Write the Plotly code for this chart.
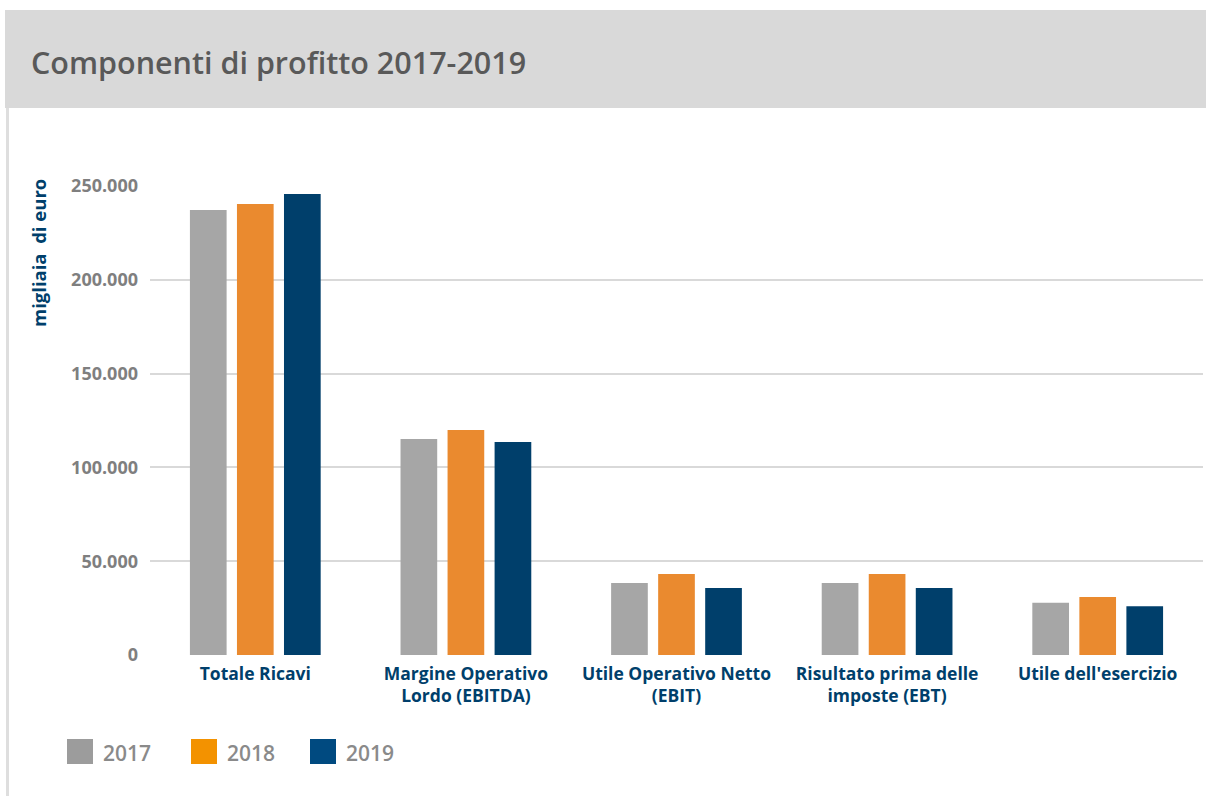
import plotly.graph_objects as go

categories = ["Totale Ricavi", "Margine Operativo<br>Lordo (EBITDA)", "Utile Operativo Netto<br>(EBIT)",
              "Risultato prima delle<br>imposte (EBT)", "Utile dell'esercizio"]
years = ["2017", "2018", "2019"]
values_2017 = [237200, 115100, 38400, 38400, 27900]
values_2018 = [240400, 119900, 43200, 43200, 30900]
values_2019 = [245700, 113500, 35700, 35700, 26000]
y_ticks = [0, 50000, 100000, 150000, 200000, 250000]

bar_colors = ["#a6a6a6", "#ea8a2f", "#003f6b"]
legend_colors = ["#9c9c9c", "#f39200", "#004a80"]

W, H = 1206, 796
L, R, T, B = 150, 3, 186, 141
PW, PH = W - L - R, H - T - B

def px(x):
    return (x - L) / PW

def py(y):
    return (H - B - y) / PH

fig = go.Figure()
for name, vals, col in zip(years, [values_2017, values_2018, values_2019], bar_colors):
    fig.add_trace(go.Bar(x=categories, y=vals, name=name, marker=dict(color=col, line=dict(width=0)),
                         showlegend=False))

shapes = [
    dict(type="rect", xref="paper", yref="paper", x0=px(5), x1=px(1206), y0=py(108), y1=py(10),
         fillcolor="#d9d9d9", line=dict(width=0), layer="below"),
    dict(type="rect", xref="paper", yref="paper", x0=px(6), x1=px(9), y0=py(796), y1=py(108),
         fillcolor="#dedede", line=dict(width=0), layer="below"),
]
annotations = [
    dict(text="Componenti di profitto 2017-2019", xref="paper", yref="paper", x=px(29), y=py(62),
         xanchor="left", yanchor="middle", showarrow=False,
         font=dict(family="Open Sans", size=30.5, color="#595959", weight=600)),
    dict(text="migliaia  di euro", xref="paper", yref="paper", x=px(38), y=py(253),
         xanchor="center", yanchor="middle", textangle=-90, showarrow=False,
         font=dict(family="Open Sans", size=18.5, color="#003f6b", weight="bold")),
]
leg_sq = [67, 191, 310]
for i, (name, col) in enumerate(zip(years, legend_colors)):
    x0 = leg_sq[i]
    shapes.append(dict(type="rect", xref="paper", yref="paper", x0=px(x0), x1=px(x0 + 26),
                       y0=py(764), y1=py(739), fillcolor=col, line=dict(width=0)))
    annotations.append(dict(text=name, xref="paper", yref="paper", x=px(x0 + 34), y=py(753),
                            xanchor="left", yanchor="middle", showarrow=False,
                            font=dict(family="Open Sans", size=21, color="#8a8a8a", weight=600)))

fig.update_layout(
    width=W, height=H,
    margin=dict(l=L, r=R, t=T, b=B, autoexpand=False),
    paper_bgcolor="white", plot_bgcolor="white",
    barmode="group", bargap=0.33, bargroupgap=0.22,
    separators=",.",
    shapes=shapes, annotations=annotations,
    xaxis=dict(showgrid=False, showline=False, zeroline=False, ticks="",
               ticklabelstandoff=6,
               tickfont=dict(family="Open Sans", size=17.5, color="#003f6b", weight="bold")),
    yaxis=dict(range=[0, 250000], tickvals=y_ticks, tickformat=",d", showgrid=True,
               gridcolor="#d9d9d9", gridwidth=2, zeroline=False, showline=False,
               ticklabelstandoff=11,
               tickfont=dict(family="Open Sans", size=18, color="#7f7f7f", weight="bold")),
)

fig.write_html("out.html", config={"displayModeBar": False},
               post_script="document.body.style.margin='0';document.body.style.overflow='hidden';")
